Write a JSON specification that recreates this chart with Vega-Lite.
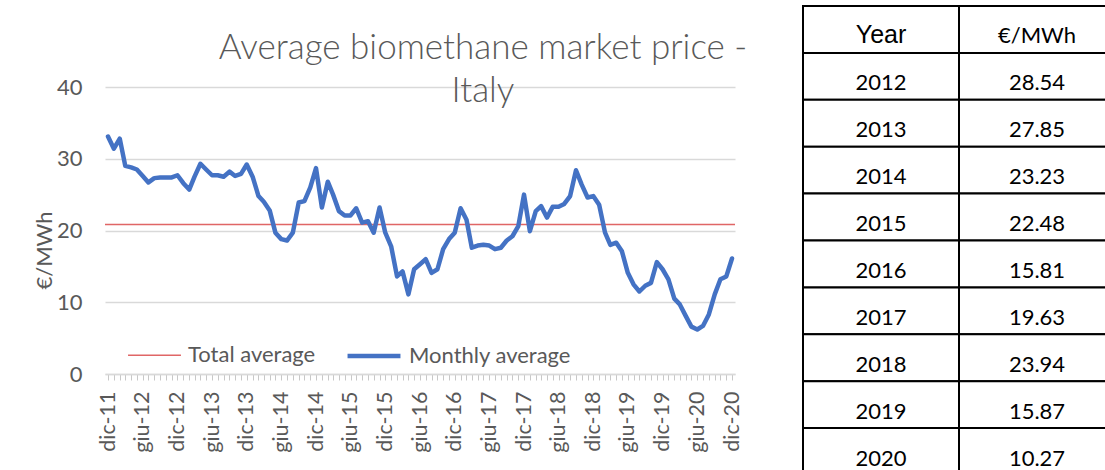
{
  "$schema": "https://vega.github.io/schema/vega-lite/v6.json",
  "padding": {"left": 33, "top": 5, "right": 0, "bottom": 0},
  "bounds": "flush",
  "spacing": 68,
  "config": {"view": {"stroke": null}, "font": "Lato"},
  "hconcat": [
    {
      "width": 630,
      "height": 368,
      "title": {
        "text": ["Average biomethane market price -", "Italy"],
        "frame": "group",
        "anchor": "middle",
        "dx": 63,
        "offset": -103,
        "fontSize": 35,
        "font": "Lato",
        "fontWeight": 300,
        "color": "#595959",
        "lineHeight": 43
      },
      "layer": [
        {
          "data": {"values": [{"series": "Total average", "value": 20.85}]},
          "mark": {"type": "rule"},
          "encoding": {
            "y": {
              "field": "value",
              "type": "quantitative",
              "scale": {"domain": [0, 51.29], "nice": false, "zero": false},
              "axis": {
                "values": [0, 10, 20, 30, 40],
                "title": "€/MWh",
                "grid": true,
                "gridColor": "#D9D9D9",
                "gridWidth": 1.5,
                "domain": false,
                "ticks": false,
                "tickSize": 0,
                "labelPadding": 23,
                "labelFontSize": 22,
                "labelFont": "Lato",
                "labelColor": "#595959",
                "titleFontSize": 22,
                "titleFont": "Lato",
                "titleFontWeight": "normal",
                "titleColor": "#595959",
                "titleX": -61,
                "titleY": 244,
                "titleAngle": -90,
                "titleAlign": "center",
                "titleBaseline": "middle"
              }
            },
            "color": {
              "field": "series",
              "type": "nominal",
              "scale": {"domain": ["Total average", "Monthly average"], "range": ["#E06666", "#4472C4"]},
              "legend": {
                "title": null,
                "orient": "none",
                "legendX": 22,
                "legendY": 321,
                "direction": "horizontal",
                "symbolType": "stroke",
                "symbolSize": 2800,
                "labelFontSize": 22,
                "labelFont": "Lato",
                "labelColor": "#595959",
                "labelOffset": 6,
                "labelLimit": 400,
                "columnPadding": 22,
                "padding": 0
              }
            },
            "strokeWidth": {
              "field": "series",
              "type": "nominal",
              "scale": {"domain": ["Total average", "Monthly average"], "range": [1.5, 4.5]},
              "legend": {
                "title": null,
                "orient": "none",
                "legendX": 22,
                "legendY": 321,
                "direction": "horizontal",
                "symbolType": "stroke",
                "symbolSize": 2800,
                "labelFontSize": 22,
                "labelFont": "Lato",
                "labelColor": "#595959",
                "labelOffset": 6,
                "labelLimit": 400,
                "columnPadding": 22,
                "padding": 0
              }
            }
          }
        },
        {
          "data": {
            "values": [
              {"date": "2011-12-01", "price": 33.1, "series": "Monthly average"},
              {"date": "2012-01-01", "price": 31.4, "series": "Monthly average"},
              {"date": "2012-02-01", "price": 32.8, "series": "Monthly average"},
              {"date": "2012-03-01", "price": 29.0, "series": "Monthly average"},
              {"date": "2012-04-01", "price": 28.8, "series": "Monthly average"},
              {"date": "2012-05-01", "price": 28.5, "series": "Monthly average"},
              {"date": "2012-06-01", "price": 27.6, "series": "Monthly average"},
              {"date": "2012-07-01", "price": 26.7, "series": "Monthly average"},
              {"date": "2012-08-01", "price": 27.3, "series": "Monthly average"},
              {"date": "2012-09-01", "price": 27.4, "series": "Monthly average"},
              {"date": "2012-10-01", "price": 27.4, "series": "Monthly average"},
              {"date": "2012-11-01", "price": 27.4, "series": "Monthly average"},
              {"date": "2012-12-01", "price": 27.7, "series": "Monthly average"},
              {"date": "2013-01-01", "price": 26.6, "series": "Monthly average"},
              {"date": "2013-02-01", "price": 25.7, "series": "Monthly average"},
              {"date": "2013-03-01", "price": 27.5, "series": "Monthly average"},
              {"date": "2013-04-01", "price": 29.3, "series": "Monthly average"},
              {"date": "2013-05-01", "price": 28.5, "series": "Monthly average"},
              {"date": "2013-06-01", "price": 27.7, "series": "Monthly average"},
              {"date": "2013-07-01", "price": 27.7, "series": "Monthly average"},
              {"date": "2013-08-01", "price": 27.5, "series": "Monthly average"},
              {"date": "2013-09-01", "price": 28.2, "series": "Monthly average"},
              {"date": "2013-10-01", "price": 27.6, "series": "Monthly average"},
              {"date": "2013-11-01", "price": 27.9, "series": "Monthly average"},
              {"date": "2013-12-01", "price": 29.2, "series": "Monthly average"},
              {"date": "2014-01-01", "price": 27.5, "series": "Monthly average"},
              {"date": "2014-02-01", "price": 24.8, "series": "Monthly average"},
              {"date": "2014-03-01", "price": 24.0, "series": "Monthly average"},
              {"date": "2014-04-01", "price": 22.8, "series": "Monthly average"},
              {"date": "2014-05-01", "price": 19.7, "series": "Monthly average"},
              {"date": "2014-06-01", "price": 18.8, "series": "Monthly average"},
              {"date": "2014-07-01", "price": 18.6, "series": "Monthly average"},
              {"date": "2014-08-01", "price": 19.7, "series": "Monthly average"},
              {"date": "2014-09-01", "price": 23.9, "series": "Monthly average"},
              {"date": "2014-10-01", "price": 24.1, "series": "Monthly average"},
              {"date": "2014-11-01", "price": 26.0, "series": "Monthly average"},
              {"date": "2014-12-01", "price": 28.7, "series": "Monthly average"},
              {"date": "2015-01-01", "price": 23.2, "series": "Monthly average"},
              {"date": "2015-02-01", "price": 26.8, "series": "Monthly average"},
              {"date": "2015-03-01", "price": 25.0, "series": "Monthly average"},
              {"date": "2015-04-01", "price": 22.7, "series": "Monthly average"},
              {"date": "2015-05-01", "price": 22.1, "series": "Monthly average"},
              {"date": "2015-06-01", "price": 22.1, "series": "Monthly average"},
              {"date": "2015-07-01", "price": 23.1, "series": "Monthly average"},
              {"date": "2015-08-01", "price": 21.1, "series": "Monthly average"},
              {"date": "2015-09-01", "price": 21.3, "series": "Monthly average"},
              {"date": "2015-10-01", "price": 19.7, "series": "Monthly average"},
              {"date": "2015-11-01", "price": 23.2, "series": "Monthly average"},
              {"date": "2015-12-01", "price": 19.7, "series": "Monthly average"},
              {"date": "2016-01-01", "price": 17.8, "series": "Monthly average"},
              {"date": "2016-02-01", "price": 13.6, "series": "Monthly average"},
              {"date": "2016-03-01", "price": 14.3, "series": "Monthly average"},
              {"date": "2016-04-01", "price": 11.1, "series": "Monthly average"},
              {"date": "2016-05-01", "price": 14.6, "series": "Monthly average"},
              {"date": "2016-06-01", "price": 15.3, "series": "Monthly average"},
              {"date": "2016-07-01", "price": 16.0, "series": "Monthly average"},
              {"date": "2016-08-01", "price": 14.1, "series": "Monthly average"},
              {"date": "2016-09-01", "price": 14.6, "series": "Monthly average"},
              {"date": "2016-10-01", "price": 17.4, "series": "Monthly average"},
              {"date": "2016-11-01", "price": 18.8, "series": "Monthly average"},
              {"date": "2016-12-01", "price": 19.7, "series": "Monthly average"},
              {"date": "2017-01-01", "price": 23.1, "series": "Monthly average"},
              {"date": "2017-02-01", "price": 21.5, "series": "Monthly average"},
              {"date": "2017-03-01", "price": 17.6, "series": "Monthly average"},
              {"date": "2017-04-01", "price": 17.9, "series": "Monthly average"},
              {"date": "2017-05-01", "price": 18.0, "series": "Monthly average"},
              {"date": "2017-06-01", "price": 17.9, "series": "Monthly average"},
              {"date": "2017-07-01", "price": 17.4, "series": "Monthly average"},
              {"date": "2017-08-01", "price": 17.6, "series": "Monthly average"},
              {"date": "2017-09-01", "price": 18.6, "series": "Monthly average"},
              {"date": "2017-10-01", "price": 19.2, "series": "Monthly average"},
              {"date": "2017-11-01", "price": 20.6, "series": "Monthly average"},
              {"date": "2017-12-01", "price": 25.0, "series": "Monthly average"},
              {"date": "2018-01-01", "price": 19.9, "series": "Monthly average"},
              {"date": "2018-02-01", "price": 22.7, "series": "Monthly average"},
              {"date": "2018-03-01", "price": 23.4, "series": "Monthly average"},
              {"date": "2018-04-01", "price": 21.8, "series": "Monthly average"},
              {"date": "2018-05-01", "price": 23.3, "series": "Monthly average"},
              {"date": "2018-06-01", "price": 23.3, "series": "Monthly average"},
              {"date": "2018-07-01", "price": 23.7, "series": "Monthly average"},
              {"date": "2018-08-01", "price": 24.8, "series": "Monthly average"},
              {"date": "2018-09-01", "price": 28.4, "series": "Monthly average"},
              {"date": "2018-10-01", "price": 26.4, "series": "Monthly average"},
              {"date": "2018-11-01", "price": 24.6, "series": "Monthly average"},
              {"date": "2018-12-01", "price": 24.8, "series": "Monthly average"},
              {"date": "2019-01-01", "price": 23.6, "series": "Monthly average"},
              {"date": "2019-02-01", "price": 19.7, "series": "Monthly average"},
              {"date": "2019-03-01", "price": 18.0, "series": "Monthly average"},
              {"date": "2019-04-01", "price": 18.3, "series": "Monthly average"},
              {"date": "2019-05-01", "price": 17.1, "series": "Monthly average"},
              {"date": "2019-06-01", "price": 14.1, "series": "Monthly average"},
              {"date": "2019-07-01", "price": 12.5, "series": "Monthly average"},
              {"date": "2019-08-01", "price": 11.5, "series": "Monthly average"},
              {"date": "2019-09-01", "price": 12.3, "series": "Monthly average"},
              {"date": "2019-10-01", "price": 12.7, "series": "Monthly average"},
              {"date": "2019-11-01", "price": 15.6, "series": "Monthly average"},
              {"date": "2019-12-01", "price": 14.6, "series": "Monthly average"},
              {"date": "2020-01-01", "price": 13.2, "series": "Monthly average"},
              {"date": "2020-02-01", "price": 10.5, "series": "Monthly average"},
              {"date": "2020-03-01", "price": 9.7, "series": "Monthly average"},
              {"date": "2020-04-01", "price": 8.1, "series": "Monthly average"},
              {"date": "2020-05-01", "price": 6.6, "series": "Monthly average"},
              {"date": "2020-06-01", "price": 6.2, "series": "Monthly average"},
              {"date": "2020-07-01", "price": 6.7, "series": "Monthly average"},
              {"date": "2020-08-01", "price": 8.3, "series": "Monthly average"},
              {"date": "2020-09-01", "price": 11.1, "series": "Monthly average"},
              {"date": "2020-10-01", "price": 13.2, "series": "Monthly average"},
              {"date": "2020-11-01", "price": 13.6, "series": "Monthly average"},
              {"date": "2020-12-01", "price": 16.1, "series": "Monthly average"}
            ]
          },
          "mark": {"type": "line", "strokeCap": "round", "strokeJoin": "round"},
          "encoding": {
            "x": {
              "field": "date",
              "type": "temporal",
              "scale": {"type": "utc", "nice": false, "padding": 3},
              "axis": {
                "title": null,
                "tickCount": {"interval": "month", "step": 1},
                "labelExpr": "utcmonth(datum.value) == 11 ? 'dic-' + utcFormat(datum.value, '%y') : (utcmonth(datum.value) == 5 ? 'giu-' + utcFormat(datum.value, '%y') : '')",
                "labelAngle": -90,
                "labelAlign": "right",
                "labelBaseline": "middle",
                "labelFontSize": 21.5,
                "labelFont": "Lato",
                "labelColor": "#595959",
                "labelPadding": 11,
                "labelOverlap": false,
                "labelFlush": false,
                "labelBound": false,
                "grid": false,
                "domainColor": "#D9D9D9",
                "domainWidth": 1.5,
                "tickColor": "#C8C8C8",
                "tickSize": 6,
                "tickWidth": 1
              }
            },
            "y": {"field": "price", "type": "quantitative"},
            "color": {"field": "series", "type": "nominal"},
            "strokeWidth": {"field": "series", "type": "nominal"}
          }
        }
      ]
    },
    {
      "width": 312,
      "height": 469,
      "data": {
        "values": [
          {"Year": "Year", "Price": "€/MWh"},
          {"Year": "2012", "Price": "28.54"},
          {"Year": "2013", "Price": "27.85"},
          {"Year": "2014", "Price": "23.23"},
          {"Year": "2015", "Price": "22.48"},
          {"Year": "2016", "Price": "15.81"},
          {"Year": "2017", "Price": "19.63"},
          {"Year": "2018", "Price": "23.94"},
          {"Year": "2019", "Price": "15.87"},
          {"Year": "2020", "Price": "10.27"}
        ]
      },
      "transform": [{"fold": ["Year", "Price"], "as": ["col", "label"]}],
      "encoding": {
        "x": {"field": "col", "type": "nominal", "sort": ["Year", "Price"], "scale": {"paddingInner": 0, "paddingOuter": 0}, "axis": null},
        "y": {"field": "Year", "type": "nominal", "sort": null, "scale": {"paddingInner": 0, "paddingOuter": 0}, "axis": null}
      },
      "layer": [
        {"mark": {"type": "rect", "fill": "white", "stroke": "black", "strokeWidth": 2}},
        {
          "transform": [{"filter": "datum.label != 'Year'"}],
          "mark": {"type": "text", "font": "Lato", "fontSize": 22, "color": "black", "baseline": "alphabetic", "dy": 14},
          "encoding": {"text": {"field": "label"}}
        },
        {
          "transform": [{"filter": "datum.label == 'Year'"}],
          "mark": {"type": "text", "font": "Liberation Sans", "fontSize": 25, "color": "black", "baseline": "alphabetic", "dy": 14},
          "encoding": {"text": {"field": "label"}}
        }
      ]
    }
  ]
}
